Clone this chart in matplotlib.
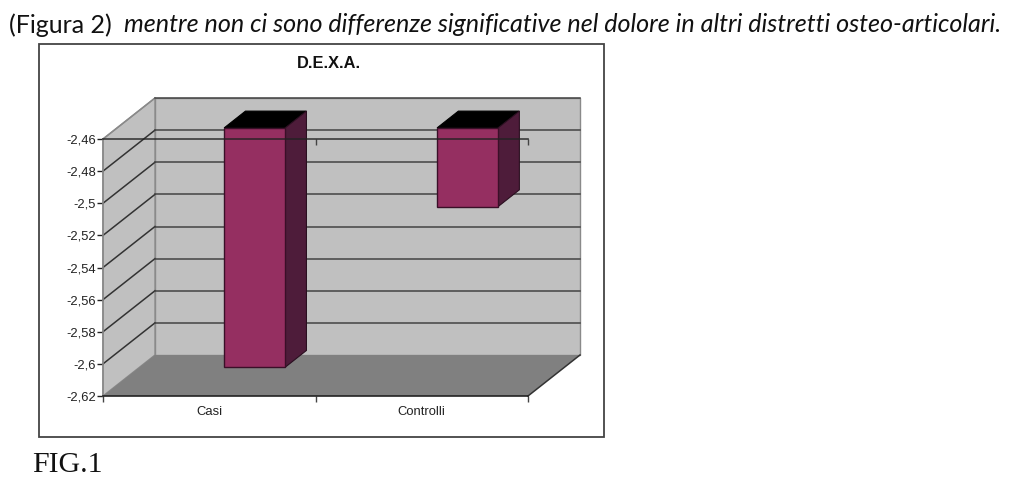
import matplotlib
matplotlib.use('Agg')
import matplotlib.pyplot as plt
from matplotlib.patches import Polygon, Rectangle

categories = ['Casi', 'Controlli']
values = [-2.609, -2.509]
y_ticks = [-2.46, -2.48, -2.50, -2.52, -2.54, -2.56, -2.58, -2.60, -2.62]
y_labels = ['-2,46', '-2,48', '-2,5', '-2,52', '-2,54', '-2,56', '-2,58', '-2,6', '-2,62']

W, H = 1024, 488
fig = plt.figure(figsize=(W / 100, H / 100), dpi=100)
plt.rcParams['font.family'] = ['Liberation Sans', 'DejaVu Sans']

# riquadro esterno del grafico
fig.add_artist(Rectangle((39 / W, 1 - 437 / H), 565 / W, 393 / H, fill=False,
                         ec='#444444', lw=1.3, transform=fig.transFigure))

# assi sul piano frontale, la profondita' viene proiettata a mano
ax = fig.add_axes([103 / W, 1 - 396 / H, 425 / W, 257 / H])
ax.set_xlim(0, 2)
ax.set_ylim(-2.62, -2.46)
ax.patch.set_visible(False)

DX = 52 / 212.5
DY = 41 / 257 * 0.16


def proj(x, v, d=0.0):
    return (x + d * DX, v + d * DY)


def poly(points, **kw):
    kw.setdefault('clip_on', False)
    ax.add_patch(Polygon(points, closed=True, **kw))


y_min, y_max = -2.62, -2.46
wall = '#C0C0C0'
# parete di fondo, parete sinistra, pavimento
poly([proj(0, y_min, 1), proj(2, y_min, 1), proj(2, y_max, 1), proj(0, y_max, 1)],
     fc=wall, ec='#8a8a8a', lw=1, zorder=1)
poly([proj(0, y_min), proj(0, y_min, 1), proj(0, y_max, 1), proj(0, y_max)],
     fc=wall, ec='#8a8a8a', lw=1, zorder=1)
poly([proj(0, y_min), proj(0, y_min, 1), proj(2, y_min, 1), proj(2, y_min)],
     fc='#808080', ec='none', zorder=1.5)

# griglia
for t in y_ticks[:-1]:
    a, b, c = proj(0, t), proj(0, t, 1), proj(2, t, 1)
    col = '#8a8a8a' if t == y_ticks[0] else '#333333'
    ax.plot([a[0], b[0]], [a[1], b[1]], color=col, lw=1.1, zorder=2, clip_on=False)
    ax.plot([b[0], c[0]], [b[1], c[1]], color='#444444', lw=1.1, zorder=2, clip_on=False)
a, b = proj(2, y_min), proj(2, y_min, 1)
ax.plot([a[0], b[0]], [a[1], b[1]], color='#333333', lw=1.1, zorder=2, clip_on=False)

# barre 3D
bar_left = [0.504, 1.506]
bar_w = 0.287
d0, d1 = 0.27, 0.68
for left, val in zip(bar_left, values):
    r = left + bar_w
    poly([proj(left, y_max, d0), proj(r, y_max, d0), proj(r, y_max, d1), proj(left, y_max, d1)],
         fc='black', ec='black', lw=0.8, zorder=3)
    poly([proj(r, y_max, d0), proj(r, y_max, d1), proj(r, val, d1), proj(r, val, d0)],
         fc='#4E1C3A', ec='#2a0f20', lw=0.8, zorder=3)
    poly([proj(left, y_max, d0), proj(r, y_max, d0), proj(r, val, d0), proj(left, val, d0)],
         fc='#952F61', ec='#3a0f28', lw=1, zorder=3.5)

# assi
ax.spines['right'].set_visible(False)
for s in ['left', 'bottom', 'top']:
    ax.spines[s].set_color('#222222')
    ax.spines[s].set_linewidth(1.2)
    ax.spines[s].set_zorder(4)
ax.spines['left'].set_color('#8a8a8a')
ax.spines['top'].set_alpha(0.85)

ax.set_yticks(y_ticks)
ax.set_yticklabels(y_labels, fontsize=9.4, color='#222222')
ax.tick_params(axis='y', length=4, width=1, color='#222222', pad=1)
ax.set_xticks([0, 1, 2])
ax.set_xticklabels([])
ax.tick_params(axis='x', length=4, width=1, color='#444444')
for i, c in enumerate(categories):
    ax.text(i + 0.5, y_min - 0.0065, c, ha='center', va='top', fontsize=9.4, color='#222222')
# tacche sulla linea superiore
ax.plot([1, 2], [y_max, y_max], ls='none', marker=3, ms=4, color='#444444', zorder=4, clip_on=False)

fig.text(329 / W, 1 - 64 / H, 'D.E.X.A.', ha='center', va='center',
         fontsize=11.8, fontweight='bold', color='#111111')

# testi fuori dal grafico
top_font = ['Lato', 'DejaVu Sans']
fig.text(9 / W, 1 - 25 / H, '(Figura 2)', ha='left', va='center', family=top_font,
         fontsize=18, color='#111111')
fig.text(124 / W, 1 - 25 / H,
         'mentre non ci sono differenze significative nel dolore in altri distretti osteo-articolari.',
         ha='left', va='center', family=top_font, style='italic', fontsize=18.1, color='#111111')
fig.text(32 / W, 1 - 465 / H, 'FIG.1', ha='left', va='center',
         family=['Liberation Serif', 'DejaVu Serif'], fontsize=21.5, color='#111111')

fig.savefig('out.png', dpi=100)
